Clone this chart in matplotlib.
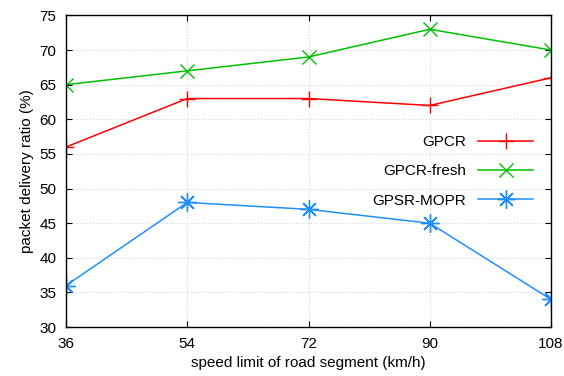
import matplotlib
matplotlib.use("Agg")
import matplotlib.pyplot as plt

speeds = [36, 54, 72, 90, 108]
gpcr = [56, 63, 63, 62, 66]
gpcr_fresh = [65, 67, 69, 73, 70]
gpsr_mopr = [36, 48, 47, 45, 34]

plt.rcParams['font.family'] = ['Liberation Sans', 'DejaVu Sans']
fig = plt.figure(figsize=(5.64, 3.76), dpi=100)
ax = fig.add_axes([0.117, 0.130, 0.860, 0.829])

ax.plot(speeds, gpcr, color='#ff0000', marker='+', markersize=12, mew=1.0, lw=1.1, label='GPCR')
ax.plot(speeds, gpcr_fresh, color='#00c000', marker='x', markersize=10, mew=1.0, lw=1.1, label='GPCR-fresh')
ax.plot(speeds, gpsr_mopr, color='#1f8fff', marker=(8, 2, 0), markersize=13, mew=1.0, lw=1.1, label='GPSR-MOPR')

ax.set_xlim(36, 108)
ax.set_ylim(30, 75)
ax.set_xticks(speeds)
ax.set_yticks(range(30, 76, 5))
ax.grid(True, color='#d8d8d8', linestyle=':', linewidth=0.8)
ax.tick_params(direction='in', top=True, right=True, labelsize=11, length=4, pad=7)
for s in ax.spines.values():
    s.set_linewidth(1.0)
ax.set_xlabel('speed limit of road segment (km/h)', fontsize=11)
ax.set_ylabel('packet delivery ratio (%)', fontsize=11)

leg = ax.legend(loc='center right', bbox_to_anchor=(0.992, 0.50), frameon=False, markerfirst=False,
                fontsize=11, handlelength=3.6, labelspacing=1.0)
for t in leg.get_texts():
    t.set_ha('right')

fig.savefig('out.png', dpi=100)
